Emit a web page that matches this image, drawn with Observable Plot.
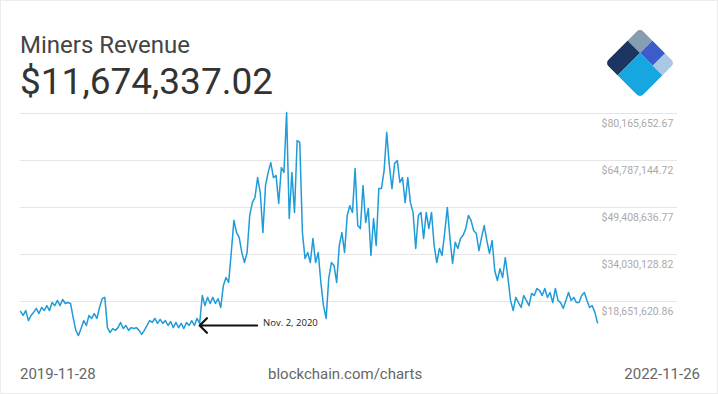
<!DOCTYPE html>
<html><head><meta charset="utf-8">
<script src="https://cdn.jsdelivr.net/npm/d3@7"></script>
<script src="https://cdn.jsdelivr.net/npm/@observablehq/plot@0.6"></script>
<style>
html,body{margin:0;padding:0;background:#fff;}
#card{position:relative;width:718px;height:394px;overflow:hidden;font-family:Roboto,sans-serif;box-shadow:inset 0 0 0 1px #ececec;}
.abs{position:absolute;white-space:nowrap;line-height:1;}
#title{left:20px;top:33px;font-size:24px;color:#444;}
#value{left:20px;top:63px;font-size:37px;color:#333;}
#logo{position:absolute;left:600px;top:20px;}
#chart{position:absolute;left:0;top:100px;}
.foot{top:367px;font-size:15px;color:#666;}
</style></head><body>
<div id="card">
  <div id="title" class="abs">Miners Revenue</div>
  <div id="value" class="abs">$11,674,337.02</div>
  <svg id="logo" width="80" height="86" viewBox="0 0 80 86">
    <defs><clipPath id="lc"><rect x="0" y="0" width="49.5" height="49.5" rx="5"/></clipPath></defs>
    <g transform="translate(40,8) rotate(45)" clip-path="url(#lc)">
      <rect x="0" y="0" width="17.7" height="17.7" fill="#869db2"/>
      <rect x="17.7" y="0" width="17.9" height="17.7" fill="#3d5ccc"/>
      <rect x="35.6" y="0" width="13.9" height="17.7" fill="#a9c8e6"/>
      <rect x="0" y="17.7" width="17.7" height="31.8" fill="#1c3661"/>
      <rect x="17.7" y="17.7" width="31.8" height="31.8" fill="#16a7e0"/>
    </g>
  </svg>
  <div id="chart"></div>
  <div class="abs foot" style="left:20px">2019-11-28</div>
  <div class="abs foot" style="left:268px">blockchain.com/charts</div>
  <div class="abs foot" style="right:18px">2022-11-26</div>
</div>
<script>
const startDate = "2019-11-28";
const stepDays = 5;
// Miners revenue, millions of USD, one reading every 5 days
const revenueM = [
  15.4,14.1,15.7,12.4,14.1,15.1,16.4,14.7,16.7,15.7,17.3,15.7,18.3,17.3,19.0,17.3,19.3,18.0,18.3,18.0,
  13.4,9.2,7.5,9.8,12.4,10.8,14.1,13.1,14.7,13.1,16.7,19.6,20.0,10.1,8.5,9.8,9.2,10.1,11.8,9.8,
  10.8,9.2,10.1,9.8,10.1,9.2,7.9,9.2,10.8,12.4,11.8,13.1,11.5,12.8,11.5,12.4,10.8,12.1,10.1,11.8,
  10.1,11.5,9.8,11.8,10.8,12.4,10.8,13.1,11.5,20.6,17.3,20.0,18.0,20.0,18.0,19.6,16.7,23.9,26.5,24.9,
  34.7,45.2,41.2,39.6,34.7,31.4,34.7,46.8,51.0,52.7,59.2,54.3,41.2,56.6,60.9,64.1,59.2,59.9,50.7,62.5,
  60.9,80.5,45.8,60.9,47.8,71.3,70.7,41.2,32.7,34.7,31.4,39.3,31.4,34.7,24.9,17.3,13.1,26.2,31.4,30.4,
  24.9,37.0,41.2,34.7,46.8,50.0,47.8,62.2,43.5,42.5,56.6,44.5,49.1,33.7,45.8,37.0,55.6,55.6,61.5,74.0,
  63.1,55.6,63.8,64.8,57.6,59.2,51.0,59.2,51.0,47.8,36.0,46.8,47.8,39.3,47.8,42.5,47.8,37.0,31.4,36.0,
  33.7,41.2,49.4,39.3,31.1,38.0,36.0,39.3,40.3,42.5,46.8,45.2,41.9,40.9,35.3,39.6,43.5,38.6,34.4,38.6,
  28.8,25.5,29.4,26.5,33.0,26.5,19.0,15.7,20.0,18.3,16.7,20.6,19.0,17.3,21.3,20.6,22.9,22.3,20.6,22.9,
  20.0,21.6,18.3,22.9,19.0,18.3,16.4,19.0,21.6,19.0,20.0,18.3,18.3,20.6,21.6,19.0,16.7,17.3,15.1,
  11.674337
];
const tickValues = [18651620.86, 34030128.82, 49408636.77, 64787144.72, 80165652.67];
const annotationLabel = "Nov. 2, 2020";
const annotationHeadDate = "2020-11-02";
const annotationTailDate = "2021-02-19";
const annotationValueM = 10.8;

const parse = d3.utcParse("%Y-%m-%d");
const t0 = parse(startDate);
const data = revenueM.map((v, i) => ({date: d3.utcDay.offset(t0, i * stepDays), value: v * 1e6}));
const annotation = [{head: parse(annotationHeadDate), tail: parse(annotationTailDate), value: annotationValueM * 1e6, label: annotationLabel}];
const fmt = d3.format(",.2f");

const chart = Plot.plot({
  width: 718,
  height: 250,
  marginLeft: 20,
  marginRight: 121,
  marginTop: 0,
  marginBottom: 0,
  style: {background: "transparent", fontFamily: "Roboto, sans-serif", overflow: "visible"},
  x: {type: "utc", axis: null},
  y: {domain: [tickValues[0], tickValues[tickValues.length - 1]], range: [201, 13], axis: null},
  marks: [
    Plot.ruleY(tickValues, {stroke: "#e6e6e6", strokeWidth: 1, insetRight: -80}),
    Plot.axisY(tickValues, {anchor: "right", tickSize: 0, tickPadding: 4, dy: 10, fontSize: 10.5, fill: "#aaa", tickFormat: d => "$" + fmt(d), label: null}),
    Plot.lineY(data, {x: "date", y: "value", stroke: "#1f9bd7", strokeWidth: 1.5}),
    Plot.arrow(annotation, {x1: "tail", x2: "head", y1: "value", y2: "value", stroke: "#111", strokeWidth: 2.2, headLength: 7, headAngle: 90}),
    Plot.text(annotation, {x: "tail", y: "value", text: "label", textAnchor: "start", dx: 6, dy: -2.5, fontSize: 9.5, fontFamily: "Open Sans", fill: "#222"})
  ]
});
document.getElementById("chart").appendChild(chart);
</script>
</body></html>
